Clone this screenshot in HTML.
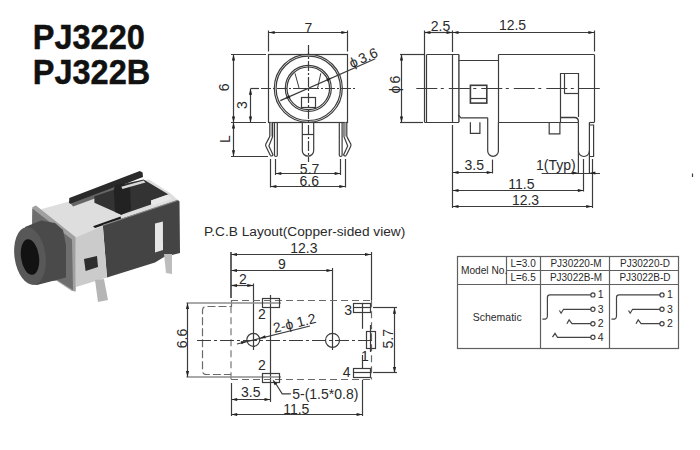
<!DOCTYPE html>
<html><head><meta charset="utf-8"><style>
html,body{margin:0;padding:0;background:#fff;}
svg{display:block;font-family:"Liberation Sans",sans-serif;}
</style></head><body>
<svg width="700" height="450" viewBox="0 0 700 450">
<rect width="700" height="450" fill="#fff"/>

<g>
<!-- metal top surface -->
<polygon points="40,209.5 69,201.5 95,193 123.6,185 148.6,179.3 170,193 178,200 104.3,225.7 75,237.5 72,238" fill="#dedede"/>
<!-- black bar -->
<polygon points="69.3,198 139.8,171.1 142.6,172.5 143,177 72,204.6 69,203" fill="#2a2a2a"/>
<polygon points="71,203.5 116,186.5 118,190 73,206.5" fill="#666"/>
<!-- latch / rear plate -->
<polygon points="94.4,196.2 113.9,189.7 115.7,184.5 123,184 143.6,179.5 168.6,194.4 151,200.5 151,204.6 121.3,214.8 94.4,202.7" fill="#333"/>
<polygon points="113.9,189.7 115.7,184.5 123,184 130,187 131,210 121.3,214.8 115,212" fill="#222"/>
<polygon points="121.3,186.8 143.6,180.4 145.5,182.4 122.5,189" fill="#d8d8d8"/>
<polygon points="151,200.5 167.7,194.4 171.4,199 152.8,205.5" fill="#e8e8e8"/>
<polygon points="93,226.3 120.6,216.6 121,219 95,228" fill="#1a1a1a"/>
<!-- front plate -->
<polygon points="102.8,225 177.9,200 179.5,201.5 180,253 164,257 155,262.5 107,277.5" fill="#444"/>
<line x1="103" y1="225.2" x2="178" y2="200.2" stroke="#8a8a8a" stroke-width="1.2"/>
<polygon points="155,223.6 162.9,221.4 163,250 155,252.5" fill="#e6e6e6"/>
<!-- metal front face -->
<polygon points="75,237.5 102.8,226 107,277.5 76,287" fill="#cbcbcb"/>
<polygon points="84,259 97,256 98,267 85.6,271" fill="#2e2e2e"/>
<!-- flange -->
<polygon points="32.4,207 36,205.5 75.5,237 75.8,291.5 72,291 57,281 31,281" fill="#a0a0a0"/>
<polygon points="32.4,208.5 72,239.5 73,290 57,280 31,280" fill="#6e6e6e"/>
<!-- nose -->
<polygon points="25,227 41,220.5 55,223 63,230 66,245 66,277.5 37,285 30,284" fill="#4a4a4a"/>
<ellipse cx="30" cy="256" rx="15.5" ry="29" fill="#585858" transform="rotate(-8 30 256)"/>
<ellipse cx="30" cy="257" rx="9" ry="18" fill="#121212" transform="rotate(-8 30 257)"/>
<!-- pins -->
<polygon points="95,280 104,279 108,300 98,302" fill="#b5b5b5"/>
<polygon points="164,254 172,254 172,274 166,273" fill="#bdbdbd"/>
</g>

<text x="32.8" y="48.9" font-size="32.5" text-anchor="start" font-weight="bold" fill="#111" transform="translate(32.8 48.9) scale(1 1.065) translate(-32.8 -48.9)" stroke="#111" stroke-width="0.45">PJ3220</text>
<text x="32.8" y="84" font-size="32.5" text-anchor="start" font-weight="bold" fill="#111" transform="translate(32.8 84) scale(1 1.065) translate(-32.8 -84)" stroke="#111" stroke-width="0.45">PJ322B</text>
<rect x="268.5" y="54.5" width="79.0" height="68.0" fill="none" stroke="#3c3c3c" stroke-width="1.2"/>
<circle cx="308.3" cy="88.3" r="34.0" fill="none" stroke="#3c3c3c" stroke-width="1.2"/>
<circle cx="308.3" cy="88.3" r="32.2" fill="none" stroke="#3c3c3c" stroke-width="1.2"/>
<circle cx="308.3" cy="88.3" r="23.0" fill="none" stroke="#3c3c3c" stroke-width="1.2"/>
<circle cx="308.3" cy="88.3" r="21.3" fill="none" stroke="#3c3c3c" stroke-width="1.2"/>
<polyline points="295,73.3 299.2,88.5 317.5,88.5 320.8,73.3" fill="none" stroke="#3c3c3c" stroke-width="1"/>
<rect x="301.5" y="97.5" width="14.0" height="10.0" fill="none" stroke="#3c3c3c" stroke-width="1.2"/>
<line x1="308.5" y1="45" x2="308.5" y2="162" stroke="#3c3c3c" stroke-width="1.2" stroke-dasharray="10,2,2,2"/>
<line x1="250.5" y1="88.5" x2="259" y2="88.5" stroke="#3c3c3c" stroke-width="1.2"/>
<line x1="261" y1="88.5" x2="357" y2="88.5" stroke="#3c3c3c" stroke-width="1.2" stroke-dasharray="10,2,2,2"/>
<line x1="268.5" y1="30.5" x2="268.5" y2="51.5" stroke="#3c3c3c" stroke-width="1.2"/>
<line x1="347.5" y1="30.5" x2="347.5" y2="51.5" stroke="#3c3c3c" stroke-width="1.2"/>
<line x1="268.7" y1="32.5" x2="347.3" y2="32.5" stroke="#3c3c3c" stroke-width="1.2"/>
<polygon points="268.7,32.5 274.7,30.9 274.7,34.1" fill="#222"/>
<polygon points="347.3,32.5 341.3,34.1 341.3,30.9" fill="#222"/>
<text x="308.5" y="33" font-size="14" text-anchor="middle" font-weight="normal" fill="#2a2a2a">7</text>
<line x1="231" y1="54.5" x2="266" y2="54.5" stroke="#3c3c3c" stroke-width="1.2"/>
<line x1="231" y1="122.5" x2="266" y2="122.5" stroke="#3c3c3c" stroke-width="1.2"/>
<line x1="231" y1="156.5" x2="268" y2="156.5" stroke="#3c3c3c" stroke-width="1.2"/>
<line x1="233.5" y1="54.5" x2="233.5" y2="122.5" stroke="#3c3c3c" stroke-width="1.2"/>
<polygon points="233.5,54.5 235.1,60.5 231.9,60.5" fill="#222"/>
<polygon points="233.5,122.5 231.9,116.5 235.1,116.5" fill="#222"/>
<line x1="233.5" y1="122.5" x2="233.5" y2="156.3" stroke="#3c3c3c" stroke-width="1.2"/>
<polygon points="233.5,122.5 235.1,128.5 231.9,128.5" fill="#222"/>
<polygon points="233.5,156.3 231.9,150.3 235.1,150.3" fill="#222"/>
<line x1="250.5" y1="88.7" x2="250.5" y2="122.5" stroke="#3c3c3c" stroke-width="1.2"/>
<polygon points="250.5,88.7 252.1,94.7 248.9,94.7" fill="#222"/>
<polygon points="250.5,122.5 248.9,116.5 252.1,116.5" fill="#222"/>
<text x="229.5" y="87.4" font-size="14" text-anchor="middle" font-weight="normal" fill="#2a2a2a" transform="rotate(-90 229.5 87.4)">6</text>
<text x="246.8" y="105" font-size="14" text-anchor="middle" font-weight="normal" fill="#2a2a2a" transform="rotate(-90 246.8 105)">3</text>
<text x="230.3" y="139.2" font-size="14" text-anchor="middle" font-weight="normal" fill="#2a2a2a" transform="rotate(-90 230.3 139.2)">L</text>
<line x1="280.3" y1="100.65" x2="375.3" y2="58.7" stroke="#3c3c3c" stroke-width="1.2"/>
<polygon points="331.45,78.09 327.52,81.57 326.23,78.64" fill="#222"/>
<polygon points="285.15,98.51 289.08,95.03 290.37,97.96" fill="#222"/>
<text x="351.8" y="68.2" font-size="14" text-anchor="start" font-weight="normal" fill="#2a2a2a" transform="rotate(-23.8 351.8 68.2)">ϕ 3.6</text>
<path d="M302.3,122.3 V150.5 A5.7,5.7 0 0 0 313.7,150.5 V122.3" fill="none" stroke="#3c3c3c" stroke-width="1.2"/>
<line x1="302.3" y1="134.5" x2="313.7" y2="134.5" stroke="#3c3c3c" stroke-width="1.2"/>
<path d="M269.8,122.3 V136.2 Q269.3,137.5 265.8,144 Q265.3,145.5 266.2,147 L270.3,155.3" fill="none" stroke="#3c3c3c" stroke-width="1.2"/>
<path d="M272.6,122.3 V136.7 L268.9,146 L273.1,155" fill="none" stroke="#3c3c3c" stroke-width="1.2"/>
<path d="M274.5,122.3 V155.3 Q274.5,156.5 275.9,156.5 Q277.3,156.5 277.3,155.3 V122.3" fill="none" stroke="#3c3c3c" stroke-width="1.2"/>
<line x1="271.3" y1="122.3" x2="271.3" y2="136.5" stroke="#999" stroke-width="1.2"/>
<path d="M270.3,155.3 Q271.5,156.8 273.1,155" fill="none" stroke="#3c3c3c" stroke-width="1.2"/>
<path d="M346.8,122.3 V136.2 Q347.3,137.5 350.8,144 Q351.3,145.5 350.4,147 L346.3,155.3" fill="none" stroke="#3c3c3c" stroke-width="1.2"/>
<path d="M344.0,122.3 V136.7 L347.7,146 L343.5,155" fill="none" stroke="#3c3c3c" stroke-width="1.2"/>
<path d="M342.1,122.3 V155.3 Q342.1,156.5 340.7,156.5 Q339.3,156.5 339.3,155.3 V122.3" fill="none" stroke="#3c3c3c" stroke-width="1.2"/>
<line x1="345.3" y1="122.3" x2="345.3" y2="136.5" stroke="#999" stroke-width="1.2"/>
<path d="M346.3,155.3 Q345.1,156.8 343.5,155" fill="none" stroke="#3c3c3c" stroke-width="1.2"/>
<line x1="270.5" y1="159" x2="270.5" y2="187.5" stroke="#3c3c3c" stroke-width="1.2"/>
<line x1="275.5" y1="159" x2="275.5" y2="175" stroke="#3c3c3c" stroke-width="1.2"/>
<line x1="340.5" y1="159" x2="340.5" y2="175" stroke="#3c3c3c" stroke-width="1.2"/>
<line x1="345.5" y1="159" x2="345.5" y2="187.5" stroke="#3c3c3c" stroke-width="1.2"/>
<line x1="275.3" y1="173.5" x2="340.6" y2="173.5" stroke="#3c3c3c" stroke-width="1.2"/>
<polygon points="275.3,173.5 281.3,171.9 281.3,175.1" fill="#222"/>
<polygon points="340.6,173.5 334.6,175.1 334.6,171.9" fill="#222"/>
<line x1="270.4" y1="186.5" x2="345.3" y2="186.5" stroke="#3c3c3c" stroke-width="1.2"/>
<polygon points="270.4,186.5 276.4,184.9 276.4,188.1" fill="#222"/>
<polygon points="345.3,186.5 339.3,188.1 339.3,184.9" fill="#222"/>
<text x="309.6" y="173.8" font-size="14" text-anchor="middle" font-weight="normal" fill="#2a2a2a">5.7</text>
<text x="309.3" y="186" font-size="14" text-anchor="middle" font-weight="normal" fill="#2a2a2a">6.6</text>
<line x1="426.6" y1="54.5" x2="458.9" y2="54.5" stroke="#3c3c3c" stroke-width="1.2"/>
<line x1="424.4" y1="122.5" x2="458.9" y2="122.5" stroke="#3c3c3c" stroke-width="1.2"/>
<line x1="426.5" y1="54.6" x2="426.5" y2="122.3" stroke="#3c3c3c" stroke-width="1.2"/>
<line x1="452.5" y1="54.6" x2="452.5" y2="122.3" stroke="#3c3c3c" stroke-width="1.2"/>
<line x1="458.9" y1="54.6" x2="458.9" y2="122.3" stroke="#3c3c3c" stroke-width="1.4"/>
<line x1="458.9" y1="60.5" x2="498.4" y2="60.5" stroke="#3c3c3c" stroke-width="1.2"/>
<line x1="498.5" y1="54.6" x2="498.5" y2="122.3" stroke="#3c3c3c" stroke-width="1.2"/>
<path d="M458.2,115 L461,117.8 H487.7" fill="none" stroke="#3c3c3c" stroke-width="1.2"/>
<rect x="470.4" y="85.3" width="16.4" height="17.8" fill="none" stroke="#3c3c3c" stroke-width="1.6"/>
<line x1="470.4" y1="98.5" x2="486.8" y2="98.5" stroke="#3c3c3c" stroke-width="1.2"/>
<path d="M487.7,117.8 V151 A5.35,5.35 0 0 0 498.4,151 V122.3" fill="none" stroke="#3c3c3c" stroke-width="1.2"/>
<path d="M470.4,122.3 V133.4 H479.9 V122.3" fill="none" stroke="#3c3c3c" stroke-width="1.2"/>
<path d="M549.2,122.3 V133.8 H559.9 V122.3" fill="none" stroke="#3c3c3c" stroke-width="1.2"/>
<line x1="498.4" y1="54.5" x2="594.4" y2="54.5" stroke="#3c3c3c" stroke-width="1.2"/>
<line x1="594.5" y1="54.6" x2="594.5" y2="122.3" stroke="#3c3c3c" stroke-width="1.2"/>
<line x1="498.4" y1="122.5" x2="578.4" y2="122.5" stroke="#3c3c3c" stroke-width="1.2"/>
<line x1="589.4" y1="122.5" x2="594.4" y2="122.5" stroke="#3c3c3c" stroke-width="1.2"/>
<path d="M560.5,122.3 V73.5 H578.5 V117" fill="none" stroke="#3c3c3c" stroke-width="1.2"/>
<line x1="564.5" y1="73.5" x2="564.5" y2="93" stroke="#3c3c3c" stroke-width="1.2"/>
<line x1="564.1" y1="93.5" x2="578.5" y2="93.5" stroke="#3c3c3c" stroke-width="1.2"/>
<path d="M561,117.5 H574.5 Q578.5,117.5 578.5,122.3" fill="none" stroke="#3c3c3c" stroke-width="1.3"/>
<path d="M578.4,122.3 V173 M589.4,122.3 V173" fill="none" stroke="#3c3c3c" stroke-width="1.2"/>
<path d="M578.4,151 A5.5,5.5 0 0 0 589.4,151" fill="none" stroke="#3c3c3c" stroke-width="1.2"/>
<path d="M589.4,125 H593.6 V156.5 H589.4" fill="none" stroke="#3c3c3c" stroke-width="1.2"/>
<line x1="416.3" y1="88.5" x2="603" y2="88.5" stroke="#3c3c3c" stroke-width="1.2" stroke-dasharray="21,3.5,3,5"/>
<line x1="424.5" y1="30.5" x2="424.5" y2="122.3" stroke="#3c3c3c" stroke-width="1.2"/>
<line x1="452.5" y1="30.5" x2="452.5" y2="52" stroke="#3c3c3c" stroke-width="1.2"/>
<line x1="594.5" y1="30.5" x2="594.5" y2="51.5" stroke="#3c3c3c" stroke-width="1.2"/>
<line x1="424.4" y1="32.5" x2="452.5" y2="32.5" stroke="#3c3c3c" stroke-width="1.2"/>
<polygon points="424.4,32.5 430.4,30.9 430.4,34.1" fill="#222"/>
<polygon points="452.5,32.5 446.5,34.1 446.5,30.9" fill="#222"/>
<line x1="452.5" y1="32.5" x2="594.4" y2="32.5" stroke="#3c3c3c" stroke-width="1.2"/>
<polygon points="452.5,32.5 458.5,30.9 458.5,34.1" fill="#222"/>
<polygon points="594.4,32.5 588.4,34.1 588.4,30.9" fill="#222"/>
<text x="440.5" y="31" font-size="14" text-anchor="middle" font-weight="normal" fill="#2a2a2a">2.5</text>
<text x="512.5" y="29.9" font-size="14" text-anchor="middle" font-weight="normal" fill="#2a2a2a">12.5</text>
<line x1="400" y1="54.5" x2="424.9" y2="54.5" stroke="#3c3c3c" stroke-width="1.2"/>
<line x1="400" y1="122.5" x2="423" y2="122.5" stroke="#3c3c3c" stroke-width="1.2"/>
<line x1="401.5" y1="54.5" x2="401.5" y2="122.5" stroke="#3c3c3c" stroke-width="1.2"/>
<polygon points="401.5,54.5 403.1,60.5 399.9,60.5" fill="#222"/>
<polygon points="401.5,122.5 399.9,116.5 403.1,116.5" fill="#222"/>
<text x="399.8" y="84.6" font-size="14" text-anchor="middle" font-weight="normal" fill="#2a2a2a" transform="rotate(-90 399.8 84.6)">ϕ 6</text>
<line x1="452.5" y1="125" x2="452.5" y2="208" stroke="#3c3c3c" stroke-width="1.2"/>
<line x1="492.5" y1="159.6" x2="492.5" y2="173.5" stroke="#3c3c3c" stroke-width="1.2"/>
<line x1="583.5" y1="159" x2="583.5" y2="191.5" stroke="#3c3c3c" stroke-width="1.2"/>
<line x1="592.5" y1="159" x2="592.5" y2="208" stroke="#3c3c3c" stroke-width="1.2"/>
<line x1="452.5" y1="172.5" x2="492.7" y2="172.5" stroke="#3c3c3c" stroke-width="1.2"/>
<polygon points="452.5,172.5 458.5,170.9 458.5,174.1" fill="#222"/>
<polygon points="492.7,172.5 486.7,174.1 486.7,170.9" fill="#222"/>
<text x="474.2" y="170.2" font-size="14" text-anchor="middle" font-weight="normal" fill="#2a2a2a">3.5</text>
<line x1="541.6" y1="173.5" x2="600" y2="173.5" stroke="#3c3c3c" stroke-width="1.2"/>
<polygon points="578.4,173 572.4,174.6 572.4,171.4" fill="#222"/>
<polygon points="589.4,173 595.4,171.4 595.4,174.6" fill="#222"/>
<text x="536" y="169.7" font-size="14" text-anchor="start" font-weight="normal" fill="#2a2a2a">1(Typ)</text>
<line x1="452.5" y1="190.5" x2="583.8" y2="190.5" stroke="#3c3c3c" stroke-width="1.2"/>
<polygon points="452.5,190.5 458.5,188.9 458.5,192.1" fill="#222"/>
<polygon points="583.8,190.5 577.8,192.1 577.8,188.9" fill="#222"/>
<text x="521.4" y="188.8" font-size="14" text-anchor="middle" font-weight="normal" fill="#2a2a2a">11.5</text>
<line x1="452.5" y1="206.5" x2="592.2" y2="206.5" stroke="#3c3c3c" stroke-width="1.2"/>
<polygon points="452.5,206.5 458.5,204.9 458.5,208.1" fill="#222"/>
<polygon points="592.2,206.5 586.2,208.1 586.2,204.9" fill="#222"/>
<text x="525.5" y="205" font-size="14" text-anchor="middle" font-weight="normal" fill="#2a2a2a">12.3</text>
<line x1="692.5" y1="173.5" x2="692.5" y2="177" stroke="#3c3c3c" stroke-width="1.2"/>
<text x="203.9" y="235.7" font-size="13.7" text-anchor="start" font-weight="normal" fill="#2a2a2a">P.C.B Layout(Copper-sided view)</text>
<line x1="231" y1="252" x2="231" y2="298" stroke="#3c3c3c" stroke-width="1.6"/>
<line x1="371.5" y1="252" x2="371.5" y2="300.5" stroke="#3c3c3c" stroke-width="1.2"/>
<line x1="332.5" y1="268" x2="332.5" y2="350" stroke="#3c3c3c" stroke-width="1.2"/>
<line x1="253.5" y1="283.5" x2="253.5" y2="350" stroke="#3c3c3c" stroke-width="1.2"/>
<line x1="270.5" y1="295" x2="270.5" y2="402" stroke="#3c3c3c" stroke-width="1.2"/>
<line x1="231" y1="254.5" x2="371" y2="254.5" stroke="#3c3c3c" stroke-width="1.2"/>
<polygon points="231,254.5 237.0,252.9 237.0,256.1" fill="#222"/>
<polygon points="371,254.5 365.0,256.1 365.0,252.9" fill="#222"/>
<text x="303.8" y="253.4" font-size="14" text-anchor="middle" font-weight="normal" fill="#2a2a2a">12.3</text>
<line x1="231" y1="270.5" x2="332.5" y2="270.5" stroke="#3c3c3c" stroke-width="1.2"/>
<polygon points="231,270.5 237.0,268.9 237.0,272.1" fill="#222"/>
<polygon points="332.5,270.5 326.5,272.1 326.5,268.9" fill="#222"/>
<text x="282" y="268.6" font-size="14" text-anchor="middle" font-weight="normal" fill="#2a2a2a">9</text>
<line x1="231" y1="285.5" x2="253.3" y2="285.5" stroke="#3c3c3c" stroke-width="1.2"/>
<polygon points="231,285.5 237.0,283.9 237.0,287.1" fill="#222"/>
<polygon points="253.3,285.5 247.3,287.1 247.3,283.9" fill="#222"/>
<text x="242.8" y="283.7" font-size="14" text-anchor="middle" font-weight="normal" fill="#2a2a2a">2</text>
<line x1="231" y1="300.5" x2="371.6" y2="300.5" stroke="#6a6a6a" stroke-width="1.2" stroke-dasharray="7,4"/>
<line x1="371.5" y1="300.3" x2="371.5" y2="379.6" stroke="#6a6a6a" stroke-width="1.2" stroke-dasharray="7,4"/>
<line x1="231" y1="379.5" x2="371.6" y2="379.5" stroke="#6a6a6a" stroke-width="1.2" stroke-dasharray="7,4"/>
<line x1="231" y1="306.3" x2="231" y2="379.6" stroke="#999" stroke-width="1.6" stroke-dasharray="7,4"/>
<path d="M231.5,300.5 V306.5 H206.5 Q202.5,306.5 202.5,310.5 V370.5 Q202.5,374.5 206.5,374.5 H231" fill="none" stroke="#6a6a6a" stroke-width="1.2" stroke-dasharray="8,3"/>
<line x1="197" y1="340.5" x2="376" y2="340.5" stroke="#3c3c3c" stroke-width="1.2" stroke-dasharray="14,3,3,3"/>
<circle cx="253.3" cy="339.8" r="6.5" fill="none" stroke="#3c3c3c" stroke-width="1.2"/>
<circle cx="332.5" cy="340.3" r="7.0" fill="none" stroke="#3c3c3c" stroke-width="1.2"/>
<line x1="237" y1="344" x2="310" y2="326" stroke="#3c3c3c" stroke-width="1.2"/>
<polygon points="246.99,341.35 241.54,344.34 240.78,341.23" fill="#222"/>
<polygon points="259.61,338.25 265.06,335.26 265.82,338.37" fill="#222"/>
<text x="274.5" y="333" font-size="14" text-anchor="start" font-weight="normal" fill="#2a2a2a" transform="rotate(-13.8 274.5 333)">2-ϕ 1.2</text>
<line x1="186.5" y1="303" x2="281" y2="303" stroke="#8c8c8c" stroke-width="1.6"/>
<line x1="186.5" y1="377" x2="281" y2="377" stroke="#8c8c8c" stroke-width="1.6"/>
<rect x="262.5" y="298.5" width="17.0" height="9.0" fill="none" stroke="#3c3c3c" stroke-width="1.2"/>
<text x="262" y="318.8" font-size="14" text-anchor="middle" font-weight="normal" fill="#2a2a2a">2</text>
<rect x="262.5" y="373.5" width="17.0" height="9.0" fill="none" stroke="#3c3c3c" stroke-width="1.2"/>
<text x="262" y="370.3" font-size="14" text-anchor="middle" font-weight="normal" fill="#2a2a2a">2</text>
<rect x="353.5" y="303.5" width="17.0" height="9.0" fill="none" stroke="#3c3c3c" stroke-width="1.2"/>
<line x1="353.7" y1="307.5" x2="370.3" y2="307.5" stroke="#3c3c3c" stroke-width="1.2"/>
<line x1="362.5" y1="303.6" x2="362.5" y2="328.8" stroke="#3c3c3c" stroke-width="1.2"/>
<line x1="373" y1="307.5" x2="397" y2="307.5" stroke="#3c3c3c" stroke-width="1.2"/>
<text x="348.2" y="314.8" font-size="14" text-anchor="middle" font-weight="normal" fill="#2a2a2a">3</text>
<rect x="366.5" y="331.5" width="9.0" height="17.0" fill="none" stroke="#3c3c3c" stroke-width="1.2"/>
<line x1="370.5" y1="325" x2="370.5" y2="352" stroke="#3c3c3c" stroke-width="1.2"/>
<text x="364.9" y="361" font-size="14" text-anchor="middle" font-weight="normal" fill="#2a2a2a">1</text>
<rect x="353.5" y="368.5" width="17.0" height="9.0" fill="none" stroke="#3c3c3c" stroke-width="1.2"/>
<line x1="353.2" y1="372.5" x2="370.3" y2="372.5" stroke="#3c3c3c" stroke-width="1.2"/>
<line x1="362.5" y1="355" x2="362.5" y2="368.5" stroke="#3c3c3c" stroke-width="1.2"/>
<line x1="373" y1="372.5" x2="397" y2="372.5" stroke="#3c3c3c" stroke-width="1.2"/>
<text x="346.6" y="377" font-size="14" text-anchor="middle" font-weight="normal" fill="#2a2a2a">4</text>
<line x1="394.5" y1="307.8" x2="394.5" y2="372.9" stroke="#3c3c3c" stroke-width="1.2"/>
<polygon points="394.5,307.8 396.1,313.8 392.9,313.8" fill="#222"/>
<polygon points="394.5,372.9 392.9,366.9 396.1,366.9" fill="#222"/>
<text x="392.8" y="338.8" font-size="14" text-anchor="middle" font-weight="normal" fill="#2a2a2a" transform="rotate(-90 392.8 338.8)">5.7</text>
<line x1="187.5" y1="302.9" x2="187.5" y2="377.1" stroke="#3c3c3c" stroke-width="1.2"/>
<polygon points="187.5,302.9 189.1,308.9 185.9,308.9" fill="#222"/>
<polygon points="187.5,377.1 185.9,371.1 189.1,371.1" fill="#222"/>
<text x="186.6" y="338.5" font-size="14" text-anchor="middle" font-weight="normal" fill="#2a2a2a" transform="rotate(-90 186.6 338.5)">6.6</text>
<line x1="231.5" y1="383" x2="231.5" y2="416" stroke="#3c3c3c" stroke-width="1.2"/>
<line x1="362.5" y1="379.7" x2="362.5" y2="416" stroke="#3c3c3c" stroke-width="1.2"/>
<line x1="231.2" y1="399.5" x2="270.5" y2="399.5" stroke="#3c3c3c" stroke-width="1.2"/>
<polygon points="231.2,399.5 237.2,397.9 237.2,401.1" fill="#222"/>
<polygon points="270.5,399.5 264.5,401.1 264.5,397.9" fill="#222"/>
<text x="250.7" y="397.3" font-size="14" text-anchor="middle" font-weight="normal" fill="#2a2a2a">3.5</text>
<line x1="231.2" y1="414.5" x2="362.6" y2="414.5" stroke="#3c3c3c" stroke-width="1.2"/>
<polygon points="231.2,414.5 237.2,412.9 237.2,416.1" fill="#222"/>
<polygon points="362.6,414.5 356.6,416.1 356.6,412.9" fill="#222"/>
<text x="296.3" y="414" font-size="14" text-anchor="middle" font-weight="normal" fill="#2a2a2a">11.5</text>
<path d="M276,384 L282.2,393.9 H290.8" fill="none" stroke="#3c3c3c" stroke-width="1.2"/>
<polygon points="272.6,379.4 277.25,383.52 274.58,385.29" fill="#222"/>
<text x="292.2" y="398.6" font-size="14" text-anchor="start" font-weight="normal" fill="#2a2a2a">5-(1.5*0.8)</text>
<rect x="457.5" y="256.5" width="221.0" height="92.0" fill="none" stroke="#606060" stroke-width="1.2"/>
<line x1="506.5" y1="256.6" x2="506.5" y2="284.4" stroke="#606060" stroke-width="1.2"/>
<line x1="540.5" y1="256.6" x2="540.5" y2="348.2" stroke="#606060" stroke-width="1.2"/>
<line x1="609.5" y1="256.6" x2="609.5" y2="348.2" stroke="#606060" stroke-width="1.2"/>
<line x1="506.6" y1="270.5" x2="678.5" y2="270.5" stroke="#606060" stroke-width="1.2"/>
<line x1="457.5" y1="284.5" x2="678.5" y2="284.5" stroke="#606060" stroke-width="1.2"/>
<text x="460.9" y="273.8" font-size="10.2" text-anchor="start" font-weight="normal" fill="#2a2a2a">Model No.</text>
<text x="510.4" y="266.7" font-size="10" text-anchor="start" font-weight="normal" fill="#2a2a2a">L=3.0</text>
<text x="510.4" y="280.7" font-size="10" text-anchor="start" font-weight="normal" fill="#2a2a2a">L=6.5</text>
<text x="576" y="266.7" font-size="10" text-anchor="middle" font-weight="normal" fill="#2a2a2a">PJ30220-M</text>
<text x="645" y="266.7" font-size="10" text-anchor="middle" font-weight="normal" fill="#2a2a2a">PJ30220-D</text>
<text x="576" y="280.7" font-size="10" text-anchor="middle" font-weight="normal" fill="#2a2a2a">PJ3022B-M</text>
<text x="645" y="280.7" font-size="10" text-anchor="middle" font-weight="normal" fill="#2a2a2a">PJ3022B-D</text>
<text x="497.2" y="320.9" font-size="10.5" text-anchor="middle" font-weight="normal" fill="#2a2a2a">Schematic</text>
<path d="M542.3,319 Q547.4,320 547.4,316 V297.5 Q547.4,294.9 550.0,294.9 H591.0" fill="none" stroke="#444" stroke-width="1.2"/>
<circle cx="592.9" cy="294.9" r="2.1" fill="none" stroke="#444" stroke-width="1.2"/>
<text x="597.8" y="298.1" font-size="10.5" text-anchor="start" font-weight="normal" fill="#2a2a2a">1</text>
<path d="M559.4,310.5 L561.1,313.2 L563.5,309.3 H591.0" fill="none" stroke="#444" stroke-width="1.2"/>
<circle cx="592.9" cy="309.3" r="2.1" fill="none" stroke="#444" stroke-width="1.2"/>
<text x="597.8" y="312.9" font-size="10.5" text-anchor="start" font-weight="normal" fill="#2a2a2a">3</text>
<path d="M566.9,323.7 L569.1,319.9 L572.0,323.7 H591.0" fill="none" stroke="#444" stroke-width="1.2"/>
<circle cx="592.9" cy="323.7" r="2.1" fill="none" stroke="#444" stroke-width="1.2"/>
<text x="597.8" y="326.7" font-size="10.5" text-anchor="start" font-weight="normal" fill="#2a2a2a">2</text>
<path d="M552.5,337.2 L555.0,333.4 L557.5,337.3 H591.0" fill="none" stroke="#444" stroke-width="1.2"/>
<circle cx="592.9" cy="337.3" r="2.1" fill="none" stroke="#444" stroke-width="1.2"/>
<text x="597.8" y="340.6" font-size="10.5" text-anchor="start" font-weight="normal" fill="#2a2a2a">4</text>
<path d="M611.3999999999999,319 Q616.4999999999999,320 616.4999999999999,316 V297.5 Q616.4999999999999,294.9 619.0999999999999,294.9 H660.0999999999999" fill="none" stroke="#444" stroke-width="1.2"/>
<circle cx="661.9999999999999" cy="294.9" r="2.1" fill="none" stroke="#444" stroke-width="1.2"/>
<text x="666.8999999999999" y="298.1" font-size="10.5" text-anchor="start" font-weight="normal" fill="#2a2a2a">1</text>
<path d="M628.4999999999999,310.5 L630.1999999999999,313.2 L632.5999999999999,309.3 H660.0999999999999" fill="none" stroke="#444" stroke-width="1.2"/>
<circle cx="661.9999999999999" cy="309.3" r="2.1" fill="none" stroke="#444" stroke-width="1.2"/>
<text x="666.8999999999999" y="312.9" font-size="10.5" text-anchor="start" font-weight="normal" fill="#2a2a2a">3</text>
<path d="M635.9999999999999,323.7 L638.1999999999999,319.9 L641.0999999999999,323.7 H660.0999999999999" fill="none" stroke="#444" stroke-width="1.2"/>
<circle cx="661.9999999999999" cy="323.7" r="2.1" fill="none" stroke="#444" stroke-width="1.2"/>
<text x="666.8999999999999" y="326.7" font-size="10.5" text-anchor="start" font-weight="normal" fill="#2a2a2a">2</text>
</svg></body></html>
